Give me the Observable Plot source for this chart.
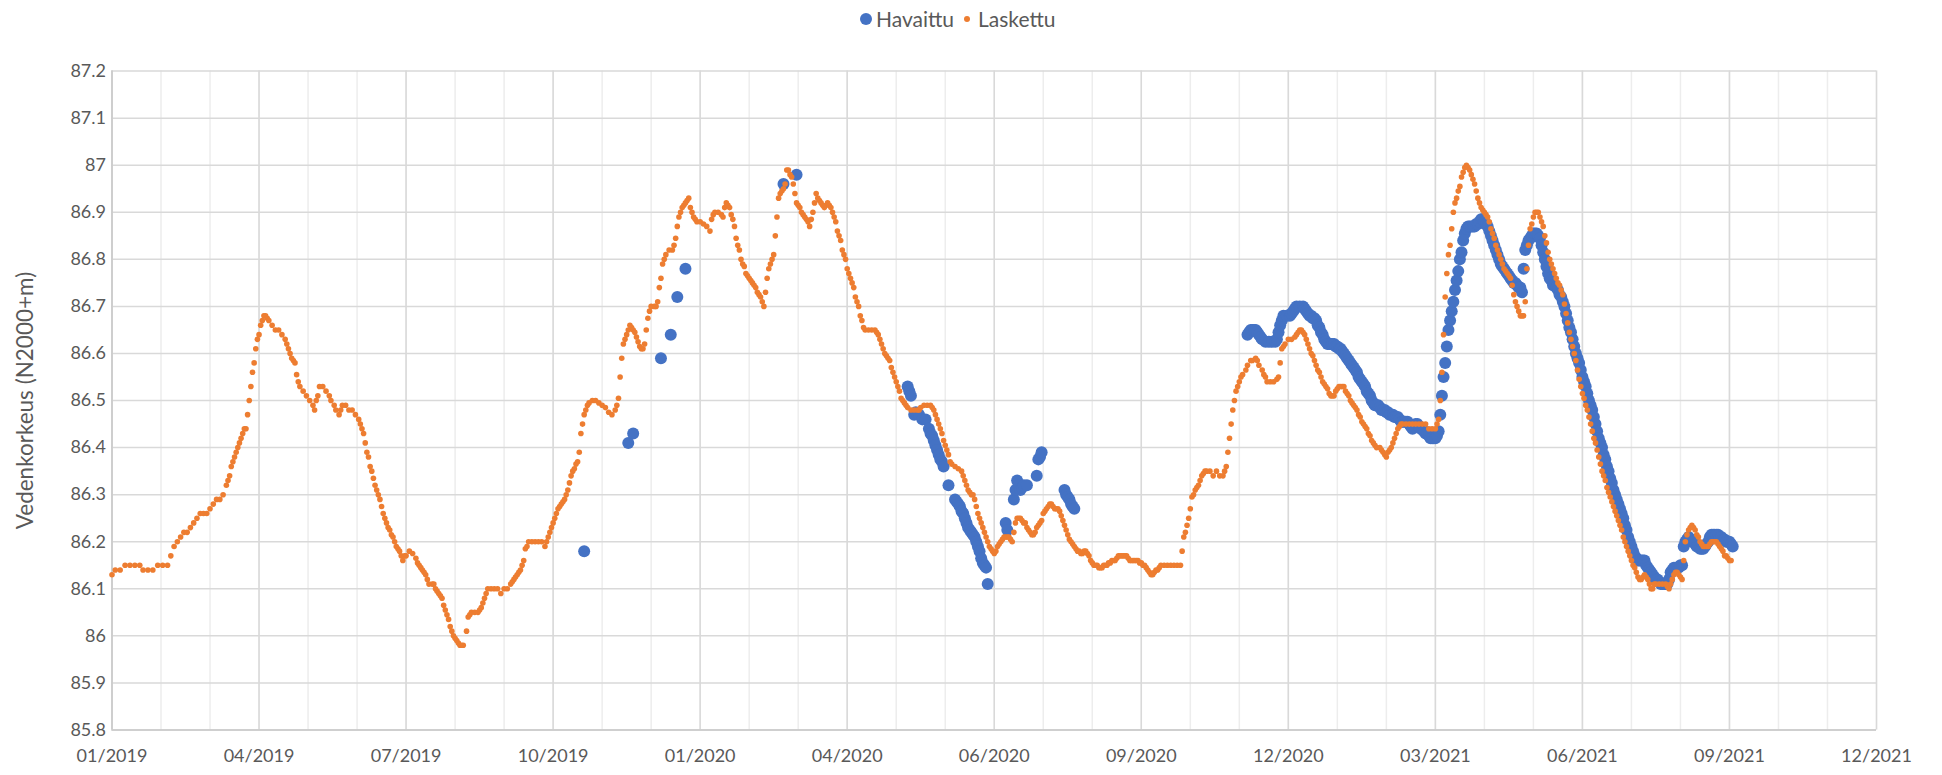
<!DOCTYPE html>
<html>
<head>
<meta charset="utf-8">
<script src="https://cdn.jsdelivr.net/npm/d3@7"></script>
<script src="https://cdn.jsdelivr.net/npm/@observablehq/plot@0.6"></script>
<style>
  html, body { margin: 0; padding: 0; background: #fff; }
  body { width: 1942px; height: 775px; overflow: hidden; font-family: Lato, "Open Sans", sans-serif; }
  #legend { position: relative; width: 1942px; height: 40px; }
  .lg-dot { position: absolute; border-radius: 50%; }
  .lg-txt { position: absolute; top: 6px; font-size: 21px; color: #595959; line-height: 25px; }
</style>
</head>
<body>
<div id="legend">
  <div class="lg-dot" style="left:860px;top:13px;width:12px;height:12px;background:#4472C4"></div>
  <div class="lg-txt" style="left:876px">Havaittu</div>
  <div class="lg-dot" style="left:964px;top:16px;width:6px;height:6px;background:#ED7D31"></div>
  <div class="lg-txt" style="left:978px">Laskettu</div>
</div>
<div id="chart"></div>
<script>
// ---- Data (day offsets from the axis start 2019-01-06, water level N2000+m) ----
const axisStart = "2019-01-06";
const seriesNames = ["Havaittu", "Laskettu"];
const seriesColors = ["#4472C4", "#ED7D31"];
const yTicks = [85.8, 85.9, 86, 86.1, 86.2, 86.3, 86.4, 86.5, 86.6, 86.7, 86.8, 86.9, 87, 87.1, 87.2];
const xTickLabels = ["01/2019","04/2019","07/2019","10/2019","01/2020","04/2020","06/2020","09/2020","12/2020","03/2021","06/2021","09/2021","12/2021"];
const majorStepDays = 90;
const minorStepDays = 30;
const yTitle = "Vedenkorkeus (N2000+m)";

const laskettu = [
[0,86.13],[2,86.14],[5,86.14],[8,86.15],[11,86.15],[14,86.15],[17,86.15],[19,86.14],[22,86.14],[25,86.14],[28,86.15],[31,86.15],[34,86.15],[36,86.17],[38,86.19],[40,86.20],[42,86.21],[44,86.22],[46,86.22],[48,86.23],[50,86.24],[52,86.25],[54,86.26],[56,86.26],[58,86.26],[60,86.27],[62,86.28],[64,86.29],[66,86.29],[68,86.30],[70,86.32],[71,86.33],[72,86.34],[73,86.36],[74,86.37],[75,86.38],[76,86.39],[77,86.40],[78,86.41],[79,86.42],[80,86.43],[81,86.44],[82,86.44],[83,86.47],[84,86.50],[85,86.53],[86,86.56],[87,86.58],[88,86.61],[89,86.63],[90,86.64],[91,86.66],[92,86.67],[93,86.68],[94,86.68],[95,86.675],[96,86.67],[98,86.66],[100,86.65],[102,86.65],[104,86.64],[106,86.63],[107,86.62],[108,86.61],[109,86.60],[110,86.59],[111,86.585],[112,86.58],[113,86.555],[114,86.54],[115,86.53],[117,86.52],[119,86.51],[121,86.50],[123,86.49],[124,86.48],[125,86.50],[126,86.51],[127,86.53],[129,86.53],[131,86.52],[133,86.51],[134,86.50],[136,86.49],[137,86.48],[139,86.47],[140,86.48],[141,86.49],[143,86.49],[145,86.48],[147,86.48],[149,86.47],[151,86.46],[152,86.45],[153,86.44],[154,86.43],[155,86.41],[156,86.39],[157,86.38],[158,86.36],[159,86.35],[160,86.335],[161,86.32],[162,86.31],[163,86.30],[164,86.29],[165,86.275],[166,86.26],[167,86.25],[168,86.24],[169,86.23],[170,86.225],[171,86.215],[172,86.21],[173,86.20],[174,86.19],[175,86.185],[176,86.18],[177,86.17],[178,86.16],[179,86.17],[180,86.17],[182,86.18],[184,86.175],[186,86.165],[187,86.155],[188,86.15],[189,86.145],[190,86.14],[191,86.135],[192,86.13],[193,86.12],[194,86.11],[196,86.11],[197,86.11],[198,86.10],[199,86.095],[200,86.09],[201,86.085],[202,86.08],[203,86.065],[204,86.055],[205,86.045],[206,86.035],[207,86.02],[208,86.01],[209,86.00],[210,85.995],[211,85.99],[212,85.985],[213,85.98],[214,85.98],[215,85.98],
[217,86.01],[218,86.04],[219,86.045],[220,86.05],[222,86.05],[224,86.05],[225,86.055],[226,86.06],[227,86.07],[228,86.08],[229,86.09],[230,86.10],[232,86.10],[234,86.10],[236,86.10],[238,86.09],[240,86.10],[242,86.10],[244,86.11],[245,86.115],[246,86.12],[247,86.125],[248,86.13],[249,86.135],[250,86.14],[251,86.15],[252,86.16],[253,86.185],[254,86.19],[255,86.20],[257,86.20],[259,86.20],[261,86.20],[263,86.20],[265,86.19],[266,86.20],[267,86.21],[268,86.22],[269,86.23],[270,86.24],[271,86.25],[272,86.26],[273,86.27],[274,86.275],[275,86.28],[276,86.285],[277,86.29],[278,86.30],[279,86.31],[280,86.325],[281,86.34],[282,86.35],[283,86.355],[284,86.365],[285,86.37],[286,86.39],[287,86.43],[288,86.45],[289,86.47],[290,86.48],[291,86.49],[292,86.495],[294,86.50],[296,86.50],[298,86.495],[300,86.49],[302,86.485],[304,86.475],[306,86.47],[308,86.48],[309,86.49],[310,86.505],[311,86.55],[312,86.59],[313,86.62],[314,86.63],[315,86.64],[316,86.65],[317,86.66],[318,86.655],[319,86.65],[320,86.645],[321,86.635],[322,86.625],[323,86.615],[324,86.61],[325,86.61],[326,86.62],[327,86.65],[328,86.675],[329,86.69],[330,86.70],[332,86.70],[333,86.70],[334,86.71],[335,86.74],[336,86.76],[337,86.79],[338,86.80],[339,86.81],[341,86.82],[343,86.82],[344,86.83],[345,86.845],[346,86.87],[347,86.89],[348,86.90],[349,86.91],[350,86.915],[351,86.92],[352,86.925],[353,86.93],[354,86.91],[355,86.90],[356,86.89],[357,86.885],[358,86.88],[360,86.88],[362,86.875],[364,86.87],[366,86.86],[367,86.885],[368,86.895],[369,86.90],[371,86.90],[373,86.895],[374,86.89],[375,86.91],[376,86.92],[377,86.915],[378,86.91],[379,86.895],[380,86.885],[381,86.87],[382,86.845],[383,86.83],[384,86.82],[385,86.80],[386,86.79],[387,86.785],[388,86.77],[389,86.765],[390,86.76],[391,86.755],[392,86.75],[393,86.745],[394,86.74],[395,86.73],[396,86.725],[397,86.72],[398,86.71],[399,86.70],[400,86.73],[401,86.76],[402,86.78],[403,86.79],[404,86.80],[405,86.81],[406,86.85],[407,86.89],[408,86.93],[409,86.94],[410,86.945],[411,86.95],[412,86.96],[413,86.99],[414,86.99],[415,86.98],[416,86.975],[417,86.96],[418,86.94],[419,86.92],[420,86.915],[421,86.91],[422,86.90],[423,86.895],[424,86.89],[425,86.885],[426,86.88],[427,86.87],[428,86.885],[429,86.90],[430,86.92],[431,86.94],[432,86.93],[433,86.925],[434,86.92],[435,86.915],[436,86.91],[437,86.915],[438,86.92],[439,86.915],[440,86.91],[441,86.90],[442,86.89],[443,86.88],[444,86.86],[445,86.85],[446,86.84],[447,86.82],[448,86.81],[449,86.80],[450,86.78],[451,86.77],[452,86.76],[453,86.75],[454,86.74],[455,86.72],[456,86.71],[457,86.70],[458,86.68],[459,86.67],[460,86.655],[461,86.65],[463,86.65],[465,86.65],[467,86.65],[468,86.645],[469,86.64],[470,86.63],[471,86.62],[472,86.61],[473,86.60],[474,86.595],[475,86.59],[476,86.585],[477,86.57],[478,86.56],[479,86.55],[480,86.54],[481,86.53],[482,86.52],[483,86.505],[484,86.50],[485,86.495],[486,86.49],[487,86.485],[489,86.48],[491,86.48],[493,86.48],[494,86.48],[495,86.485],[497,86.49],[499,86.49],[501,86.49],[502,86.485],[503,86.48],[504,86.47],[505,86.46],[506,86.45],[507,86.44],[508,86.43],[509,86.415],[510,86.405],[511,86.395],[512,86.385],[513,86.37],[514,86.365],[516,86.36],[518,86.355],[520,86.35],[521,86.34],[522,86.33],[523,86.32],[524,86.31],[525,86.305],[526,86.30],[527,86.30],[528,86.29],[529,86.275],[530,86.26],[531,86.25],[532,86.24],[533,86.23],[534,86.22],[535,86.21],[536,86.20],[537,86.19],[538,86.185],[539,86.18],[540,86.175],[541,86.18],[542,86.19],[543,86.195],[544,86.20],[545,86.205],[546,86.21],[547,86.21],[548,86.21],[549,86.21],[550,86.205],[551,86.20],[552,86.22],[553,86.24],[554,86.25],[555,86.25],[556,86.25],[557,86.245],[558,86.24],[559,86.24],[560,86.23],[561,86.225],[562,86.22],[563,86.215],[564,86.215],[565,86.22],[566,86.23],[567,86.235],[568,86.24],[569,86.245],[570,86.26],[571,86.265],[572,86.27],[573,86.275],[574,86.28],[575,86.28],[576,86.275],[577,86.27],[578,86.27],[579,86.27],[580,86.265],[581,86.255],[582,86.245],[583,86.235],[584,86.225],[585,86.215],[586,86.205],[587,86.20],[588,86.195],[589,86.19],[590,86.185],[591,86.18],[592,86.18],[593,86.175],[594,86.175],[595,86.18],[596,86.18],[597,86.175],[598,86.17],[599,86.16],[600,86.155],[601,86.15],[602,86.15],[603,86.15],[604,86.145],[605,86.145],[606,86.145],[607,86.15],[608,86.15],[609,86.15],[610,86.155],[611,86.155],[612,86.16],[613,86.16],[614,86.16],[615,86.165],[616,86.17],[617,86.17],[618,86.17],[619,86.17],[620,86.17],[621,86.17],[622,86.165],[623,86.16],[624,86.16],[625,86.16],[626,86.16],[627,86.16],[628,86.16],[629,86.155],[630,86.155],[631,86.15],[632,86.15],[633,86.145],[634,86.14],[635,86.135],[636,86.13],[637,86.13],[638,86.135],[639,86.14],[640,86.14],[641,86.145],[642,86.15],[644,86.15],[646,86.15],[648,86.15],[650,86.15],[652,86.15],[654,86.15],
[655,86.18],[656,86.21],[657,86.22],[658,86.235],[659,86.25],[660,86.27],[661,86.295],[662,86.30],[663,86.31],[664,86.315],[665,86.32],[666,86.33],[667,86.34],[668,86.345],[669,86.35],[670,86.35],[672,86.35],[674,86.34],[676,86.35],[678,86.34],[680,86.34],[681,86.35],[682,86.36],[683,86.39],[684,86.42],[685,86.45],[686,86.48],[687,86.50],[688,86.52],[689,86.53],[690,86.54],[691,86.55],[692,86.555],[694,86.565],[695,86.575],[697,86.585],[698,86.585],[700,86.59],[701,86.585],[702,86.575],[704,86.565],[705,86.555],[706,86.55],[707,86.54],[709,86.54],[711,86.54],[713,86.545],[714,86.55],[715,86.58],[716,86.61],[717,86.615],[718,86.62],[720,86.63],[722,86.63],[724,86.635],[725,86.64],[726,86.645],[727,86.65],[728,86.65],[729,86.645],[730,86.64],[731,86.63],[732,86.62],[733,86.61],[734,86.60],[735,86.595],[736,86.585],[737,86.575],[738,86.565],[739,86.56],[740,86.55],[741,86.54],[742,86.535],[743,86.53],[744,86.525],[745,86.515],[746,86.51],[747,86.51],[748,86.51],[749,86.52],[750,86.525],[751,86.53],[752,86.53],[753,86.53],[754,86.53],[755,86.52],[756,86.515],[757,86.51],[758,86.50],[759,86.495],[760,86.49],[761,86.485],[762,86.48],[763,86.47],[764,86.465],[765,86.455],[766,86.45],[767,86.445],[768,86.44],[769,86.43],[770,86.425],[771,86.415],[772,86.41],[773,86.405],[774,86.40],[776,86.40],[777,86.395],[778,86.39],[779,86.385],[780,86.38],[781,86.39],[782,86.395],[783,86.40],[784,86.41],[785,86.42],[786,86.43],[787,86.44],[788,86.445],[789,86.45],[790,86.45],[792,86.45],[794,86.45],[796,86.45],[798,86.45],[800,86.45],[802,86.45],[804,86.45],[806,86.44],[808,86.44],[810,86.44],[811,86.45],[812,86.46],[813,86.50],[814,86.56],[815,86.64],[816,86.72],[817,86.77],[818,86.81],[819,86.83],[820,86.865],[821,86.90],[822,86.92],[823,86.93],[824,86.945],[825,86.955],[826,86.975],[827,86.985],[828,86.995],[829,87.00],[830,86.995],[831,86.99],[832,86.98],[833,86.97],[834,86.96],[835,86.945],[836,86.93],[837,86.92],[838,86.91],[839,86.905],[840,86.90],[841,86.895],[842,86.89],[843,86.88],[844,86.865],[845,86.855],[846,86.845],[847,86.83],[848,86.82],[849,86.81],[850,86.80],[851,86.79],[852,86.78],[853,86.775],[854,86.77],[855,86.765],[856,86.76],[857,86.745],[858,86.725],[859,86.71],[860,86.70],[861,86.69],[862,86.68],[863,86.68],[864,86.68],[865,86.71],[866,86.78],[867,86.83],[868,86.865],[869,86.875],[870,86.89],[871,86.90],[872,86.90],[873,86.90],[874,86.89],[875,86.88],[876,86.87],[877,86.85],[878,86.835],[879,86.815],[880,86.80],[881,86.79],[882,86.78],[883,86.77],[884,86.76],[885,86.75],[886,86.745],[887,86.735],[888,86.725],[889,86.705],[890,86.685],[891,86.665],[892,86.645],[893,86.63],[894,86.615],[895,86.60],[896,86.585],[897,86.565],[898,86.545],[899,86.53],[900,86.515],[901,86.505],[902,86.49],[903,86.48],[904,86.465],[905,86.45],[906,86.435],[907,86.42],[908,86.41],[909,86.395],[910,86.38],[911,86.365],[912,86.35],[913,86.34],[914,86.33],[915,86.315],[916,86.305],[917,86.295],[918,86.285],[919,86.275],[920,86.265],[921,86.255],[922,86.245],[923,86.235],[924,86.225],[925,86.21],[926,86.20],[927,86.19],[928,86.18],[929,86.17],[930,86.16],[931,86.15],[932,86.145],[933,86.135],[934,86.125],[935,86.12],[936,86.12],[937,86.125],[938,86.13],[939,86.125],[940,86.12],[941,86.11],[942,86.10],[943,86.10],[944,86.11],[945,86.11],[947,86.11],[949,86.11],[951,86.11],[952,86.105],[953,86.10],[954,86.11],[955,86.12],[956,86.13],[957,86.135],[958,86.135],[959,86.13],[960,86.125],[961,86.12],[962,86.16],[963,86.20],[964,86.215],[965,86.225],[966,86.23],[967,86.235],[968,86.23],[969,86.225],[970,86.215],[971,86.21],[972,86.20],[973,86.195],[974,86.19],[975,86.19],[976,86.19],[977,86.19],[978,86.195],[979,86.20],[980,86.20],[981,86.20],[982,86.20],[983,86.195],[984,86.19],[985,86.185],[986,86.18],[987,86.17],[988,86.17],[989,86.165],[990,86.16],[991,86.16]
];

const havaittu = [
[289,86.18],[316,86.41],[319,86.43],[336,86.59],[342,86.64],[346,86.72],[351,86.78],[411,86.96],[419,86.98],
[487,86.53],[488,86.52],[489,86.51],[491,86.47],[492,86.475],[494,86.47],[496,86.46],[498,86.46],[500,86.44],[501,86.43],[502,86.425],[503,86.415],[504,86.405],[505,86.395],[506,86.385],[507,86.375],[508,86.37],[509,86.36],[512,86.32],[516,86.29],[517,86.285],[518,86.28],[519,86.275],[520,86.265],[521,86.26],[522,86.25],[523,86.24],[524,86.23],[525,86.225],[526,86.22],[527,86.215],[528,86.21],[529,86.20],[530,86.19],[531,86.18],[532,86.165],[533,86.155],[534,86.15],[535,86.145],[536,86.11],
[547,86.24],[548,86.225],[552,86.29],[553,86.31],[554,86.33],[555,86.32],[556,86.31],[557,86.315],[558,86.32],[560,86.32],[566,86.34],[567,86.375],[568,86.38],[569,86.39],[583,86.31],[584,86.30],[585,86.295],[586,86.29],[587,86.28],[588,86.275],[589,86.27],
[695,86.64],[696,86.645],[697,86.65],[698,86.65],[699,86.65],[700,86.65],[701,86.645],[702,86.64],[703,86.635],[704,86.63],[706,86.625],[708,86.625],[710,86.625],[712,86.625],[713,86.63],[714,86.645],[715,86.66],[716,86.67],[717,86.68],[719,86.68],[721,86.68],[722,86.685],[723,86.69],[724,86.695],[725,86.70],[727,86.70],[729,86.70],[730,86.695],[731,86.69],[732,86.685],[733,86.68],[734,86.68],[735,86.675],[736,86.675],[737,86.67],[738,86.66],[739,86.655],[740,86.645],[741,86.64],[742,86.63],[743,86.625],[744,86.62],[745,86.62],[746,86.62],[747,86.62],[748,86.62],[749,86.615],[750,86.615],[751,86.61],[752,86.61],[753,86.605],[754,86.60],[755,86.595],[756,86.59],[757,86.585],[758,86.58],[759,86.575],[760,86.57],[761,86.565],[762,86.56],[763,86.55],[764,86.545],[765,86.54],[766,86.535],[767,86.53],[768,86.52],[769,86.515],[770,86.51],[771,86.50],[772,86.495],[773,86.49],[774,86.49],[775,86.49],[776,86.485],[777,86.48],[778,86.48],[779,86.48],[780,86.475],[781,86.475],[782,86.47],[783,86.47],[784,86.47],[785,86.465],[786,86.465],[787,86.465],[788,86.46],[789,86.455],[790,86.455],[791,86.455],[792,86.455],[793,86.455],[794,86.45],[795,86.445],[796,86.44],[797,86.445],[798,86.45],[799,86.45],[800,86.445],[801,86.44],[802,86.44],[803,86.435],[804,86.43],[805,86.43],[806,86.425],[807,86.42],[808,86.42],[809,86.42],[810,86.42],[811,86.425],[812,86.435],[813,86.47],[814,86.51],[815,86.55],[816,86.58],[817,86.615],[818,86.65],[819,86.67],[820,86.69],[821,86.71],[822,86.735],[823,86.755],[824,86.775],[825,86.80],[826,86.815],[827,86.84],[828,86.855],[829,86.865],[830,86.87],[831,86.87],[832,86.87],[833,86.87],[834,86.87],[835,86.875],[836,86.875],[837,86.88],[838,86.885],[839,86.885],[840,86.88],[841,86.875],[842,86.87],[843,86.86],[844,86.85],[845,86.84],[846,86.83],[847,86.82],[848,86.81],[849,86.80],[850,86.79],[851,86.785],[852,86.78],[853,86.775],[854,86.77],[855,86.765],[856,86.76],[857,86.755],[858,86.75],[859,86.75],[860,86.745],[861,86.74],[862,86.74],[863,86.73],[864,86.78],[865,86.82],[866,86.83],[867,86.84],[868,86.845],[869,86.85],[870,86.855],[871,86.855],[872,86.855],[873,86.85],[874,86.845],[875,86.83],[876,86.815],[877,86.80],[878,86.785],[879,86.77],[880,86.76],[881,86.755],[882,86.745],[883,86.745],[884,86.74],[885,86.735],[886,86.725],[887,86.72],[888,86.71],[889,86.70],[890,86.685],[891,86.67],[892,86.655],[893,86.645],[894,86.63],[895,86.615],[896,86.60],[897,86.59],[898,86.58],[899,86.565],[900,86.55],[901,86.54],[902,86.53],[903,86.515],[904,86.50],[905,86.49],[906,86.48],[907,86.465],[908,86.45],[909,86.435],[910,86.42],[911,86.41],[912,86.40],[913,86.385],[914,86.375],[915,86.36],[916,86.35],[917,86.335],[918,86.325],[919,86.31],[920,86.30],[921,86.29],[922,86.28],[923,86.27],[924,86.26],[925,86.25],[926,86.235],[927,86.225],[928,86.21],[929,86.20],[930,86.19],[931,86.18],[932,86.17],[933,86.165],[934,86.16],[935,86.16],[936,86.16],[937,86.16],[938,86.16],[939,86.15],[940,86.145],[941,86.14],[942,86.135],[943,86.13],[944,86.125],[945,86.12],[946,86.12],[947,86.115],[948,86.11],[949,86.11],[950,86.11],[951,86.11],[952,86.11],[953,86.12],[954,86.135],[955,86.14],[956,86.145],[957,86.145],[958,86.145],[959,86.145],[960,86.15],[961,86.15],[962,86.19],[963,86.20],[964,86.205],[965,86.21],[966,86.205],[967,86.20],[968,86.20],[969,86.195],[970,86.19],[971,86.19],[972,86.185],[973,86.185],[974,86.185],[975,86.19],[976,86.195],[977,86.20],[978,86.21],[979,86.215],[980,86.215],[981,86.215],[982,86.215],[983,86.215],[984,86.21],[985,86.21],[986,86.205],[987,86.205],[988,86.20],[989,86.20],[990,86.20],[991,86.195],[992,86.19]
];

// ---- Build ----
const t0 = d3.utcParse("%Y-%m-%d")(axisStart);
const toDate = d => d3.utcDay.offset(t0, d);
const rows = (arr, name) => arr.map(([d, v]) => ({date: toDate(d), value: v, series: name}));
const havRows = rows(havaittu, seriesNames[0]);
const lasRows = rows(laskettu, seriesNames[1]);

const majorDates = xTickLabels.map((_, i) => toDate(i * majorStepDays));
const minorDates = d3.range(0, (xTickLabels.length - 1) * majorStepDays + 1, minorStepDays).map(toDate);

const chart = Plot.plot({
  width: 1942,
  height: 735,
  marginTop: 30.6,
  marginBottom: 45.5,
  marginLeft: 111.5,
  marginRight: 66,
  style: {background: "#fff", fontFamily: "Lato, 'Open Sans', sans-serif", fontSize: "18px", color: "#595959"},
  x: {type: "utc", domain: [majorDates[0], majorDates[majorDates.length - 1]]},
  y: {domain: [yTicks[0], yTicks[yTicks.length - 1]]},
  marks: [
    Plot.ruleX(minorDates, {stroke: "#EDEDED", strokeWidth: 1.5}),
    Plot.ruleY(yTicks, {stroke: "#D9D9D9", strokeWidth: 1.5}),
    Plot.ruleX(majorDates, {stroke: "#D9D9D9", strokeWidth: 1.5}),
    Plot.ruleX([majorDates[0]], {stroke: "#C8C8C8", strokeWidth: 1.5}),
    Plot.ruleY([yTicks[0]], {stroke: "#C8C8C8", strokeWidth: 1.5}),
    Plot.axisX({ticks: majorDates, tickFormat: (d, i) => xTickLabels[i], tickSize: 0, tickPadding: 19, label: null, fill: "#595959"}),
    Plot.axisY({ticks: yTicks, tickFormat: d => String(+d.toFixed(1)), tickSize: 0, tickPadding: 6, label: null, fill: "#595959"}),
    Plot.text([yTitle], {frameAnchor: "left", textAnchor: "middle", dx: -86.5, rotate: -90, fill: "#595959", fontSize: 22.5}),
    Plot.dot(havRows, {x: "date", y: "value", r: 6, fill: seriesColors[0], stroke: null}),
    Plot.dot(lasRows, {x: "date", y: "value", r: 2.8, fill: seriesColors[1], stroke: null})
  ]
});
document.getElementById("chart").appendChild(chart);
</script>
</body>
</html>
